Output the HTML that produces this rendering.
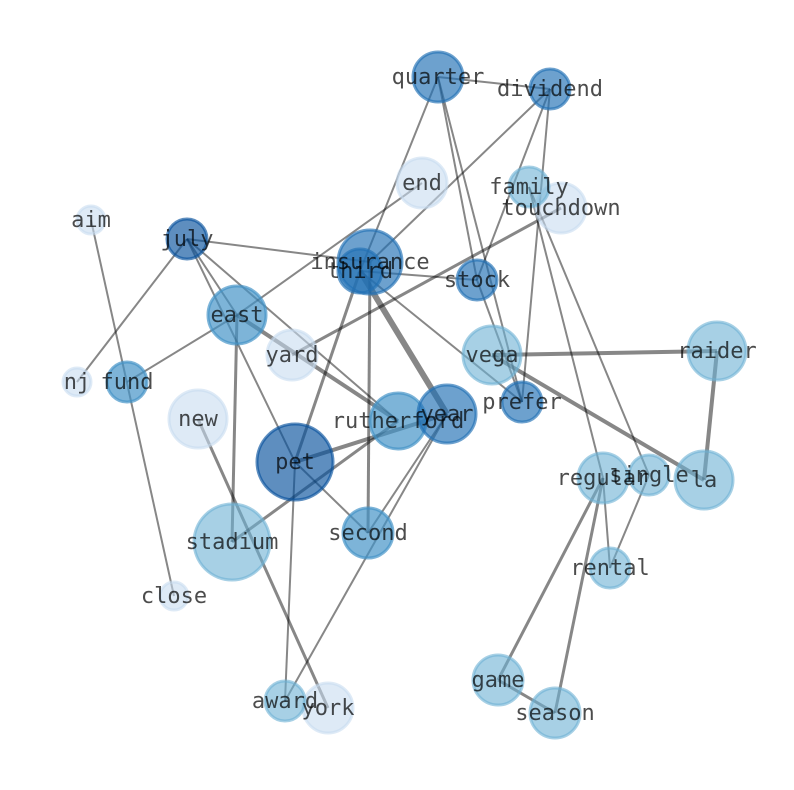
<!DOCTYPE html>
<html><head><meta charset="utf-8"><style>
html,body{margin:0;padding:0;background:#fff}
svg{display:block}
text{font-family:"DejaVu Sans Mono","Liberation Mono",monospace;font-size:22px;fill:#000;fill-opacity:.7;text-anchor:middle}
.e line{stroke:#000;stroke-opacity:.47}
.n circle{stroke-width:3}
.d1{fill:#08519c;stroke:#08519c;fill-opacity:.65;stroke-opacity:.65}
.d2{fill:#2171b5;stroke:#2171b5;fill-opacity:.66;stroke-opacity:.66}
.d3{fill:#4292c6;stroke:#4292c6;fill-opacity:.69;stroke-opacity:.69}
.d4{fill:#6db0d4;stroke:#6db0d4;fill-opacity:.6;stroke-opacity:.6}
.d5{fill:#c6dbef;stroke:#c6dbef;fill-opacity:.58;stroke-opacity:.58}
</style></head><body>
<svg width="794" height="790" viewBox="0 0 794 790" xmlns="http://www.w3.org/2000/svg">
<g class="e">
<g stroke-width="2">
<line x1="438" y1="77" x2="550" y2="89"/>
<line x1="438" y1="77" x2="360" y2="271"/>
<line x1="438" y1="77" x2="477" y2="280"/>
<line x1="438" y1="77" x2="522" y2="402"/>
<line x1="550" y1="89" x2="370" y2="262"/>
<line x1="550" y1="89" x2="477" y2="280"/>
<line x1="550" y1="89" x2="522" y2="402"/>
<line x1="477" y1="280" x2="522" y2="402"/>
<line x1="360" y1="271" x2="477" y2="280"/>
<line x1="360" y1="271" x2="522" y2="402"/>
<line x1="422" y1="183" x2="237" y2="315"/>
<line x1="529" y1="187" x2="603" y2="478"/>
<line x1="529" y1="187" x2="649" y2="475"/>
<line x1="91" y1="220" x2="174" y2="596"/>
<line x1="187" y1="239" x2="370" y2="262"/>
<line x1="187" y1="239" x2="77" y2="382"/>
<line x1="187" y1="239" x2="237" y2="315"/>
<line x1="187" y1="239" x2="295" y2="462"/>
<line x1="187" y1="239" x2="398" y2="421"/>
<line x1="237" y1="315" x2="127" y2="382"/>
<line x1="295" y1="462" x2="368" y2="533"/>
<line x1="295" y1="462" x2="285" y2="701"/>
<line x1="447" y1="414" x2="368" y2="533"/>
<line x1="447" y1="414" x2="285" y2="701"/>
<line x1="603" y1="478" x2="610" y2="568"/>
<line x1="649" y1="475" x2="610" y2="568"/>
</g>
<g stroke-width="3">
<line x1="292" y1="355" x2="561" y2="208"/>
<line x1="360" y1="271" x2="295" y2="462"/>
<line x1="370" y1="262" x2="368" y2="533"/>
<line x1="237" y1="315" x2="232" y2="542"/>
<line x1="232" y1="542" x2="398" y2="421"/>
<line x1="198" y1="419" x2="328" y2="708"/>
<line x1="603" y1="478" x2="498" y2="680"/>
<line x1="603" y1="478" x2="555" y2="713"/>
<line x1="498" y1="680" x2="555" y2="713"/>
</g>
<g stroke-width="4">
<line x1="237" y1="315" x2="398" y2="421"/>
<line x1="295" y1="462" x2="447" y2="414"/>
<line x1="492" y1="355" x2="717" y2="351"/>
<line x1="492" y1="355" x2="704" y2="480"/>
<line x1="717" y1="351" x2="704" y2="480"/>
</g>
<line x1="360" y1="271" x2="447" y2="414" stroke-width="6"/>
</g>
<g class="n">
<circle class="d5" cx="422" cy="183" r="25"/>
<circle class="d5" cx="561" cy="208" r="25"/>
<circle class="d5" cx="91" cy="220" r="14"/>
<circle class="d5" cx="292" cy="355" r="25"/>
<circle class="d5" cx="77" cy="382" r="14"/>
<circle class="d5" cx="198" cy="419" r="29"/>
<circle class="d5" cx="174" cy="596" r="14"/>
<circle class="d5" cx="328" cy="708" r="25"/>
<circle class="d4" cx="529" cy="187" r="20"/>
<circle class="d4" cx="492" cy="355" r="29"/>
<circle class="d4" cx="717" cy="351" r="29"/>
<circle class="d4" cx="603" cy="478" r="25"/>
<circle class="d4" cx="649" cy="475" r="20"/>
<circle class="d4" cx="704" cy="480" r="29"/>
<circle class="d4" cx="232" cy="542" r="38"/>
<circle class="d4" cx="610" cy="568" r="20"/>
<circle class="d4" cx="498" cy="680" r="25"/>
<circle class="d4" cx="555" cy="713" r="25"/>
<circle class="d4" cx="285" cy="701" r="20"/>
<circle class="d3" cx="237" cy="315" r="29"/>
<circle class="d3" cx="127" cy="382" r="20"/>
<circle class="d3" cx="398" cy="421" r="28"/>
<circle class="d3" cx="368" cy="533" r="25"/>
<circle class="d2" cx="438" cy="77" r="25"/>
<circle class="d2" cx="550" cy="89" r="20"/>
<circle class="d2" cx="370" cy="262" r="32"/>
<circle class="d2" cx="360" cy="271" r="22"/>
<circle class="d2" cx="477" cy="280" r="20"/>
<circle class="d2" cx="447" cy="414" r="29"/>
<circle class="d2" cx="522" cy="402" r="20"/>
<circle class="d1" cx="187" cy="239" r="20"/>
<circle class="d1" cx="295" cy="462" r="38"/>
</g>
<g>
<text x="438" y="84">quarter</text>
<text x="550" y="96">dividend</text>
<text x="422" y="190">end</text>
<text x="529" y="194">family</text>
<text x="561" y="215">touchdown</text>
<text x="91" y="227">aim</text>
<text x="187" y="246">july</text>
<text x="370" y="269">insurance</text>
<text x="360" y="278">third</text>
<text x="477" y="287">stock</text>
<text x="237" y="322">east</text>
<text x="292" y="362">yard</text>
<text x="492" y="362">vega</text>
<text x="717" y="358">raider</text>
<text x="77" y="389">nj</text>
<text x="127" y="389">fund</text>
<text x="198" y="426">new</text>
<text x="398" y="428">rutherford</text>
<text x="447" y="421">year</text>
<text x="522" y="409">prefer</text>
<text x="295" y="469">pet</text>
<text x="603" y="485">regular</text>
<text x="649" y="482">single</text>
<text x="704" y="487">la</text>
<text x="368" y="540">second</text>
<text x="232" y="549">stadium</text>
<text x="610" y="575">rental</text>
<text x="174" y="603">close</text>
<text x="498" y="687">game</text>
<text x="555" y="720">season</text>
<text x="285" y="708">award</text>
<text x="328" y="715">york</text>
</g>
</svg>
</body></html>
